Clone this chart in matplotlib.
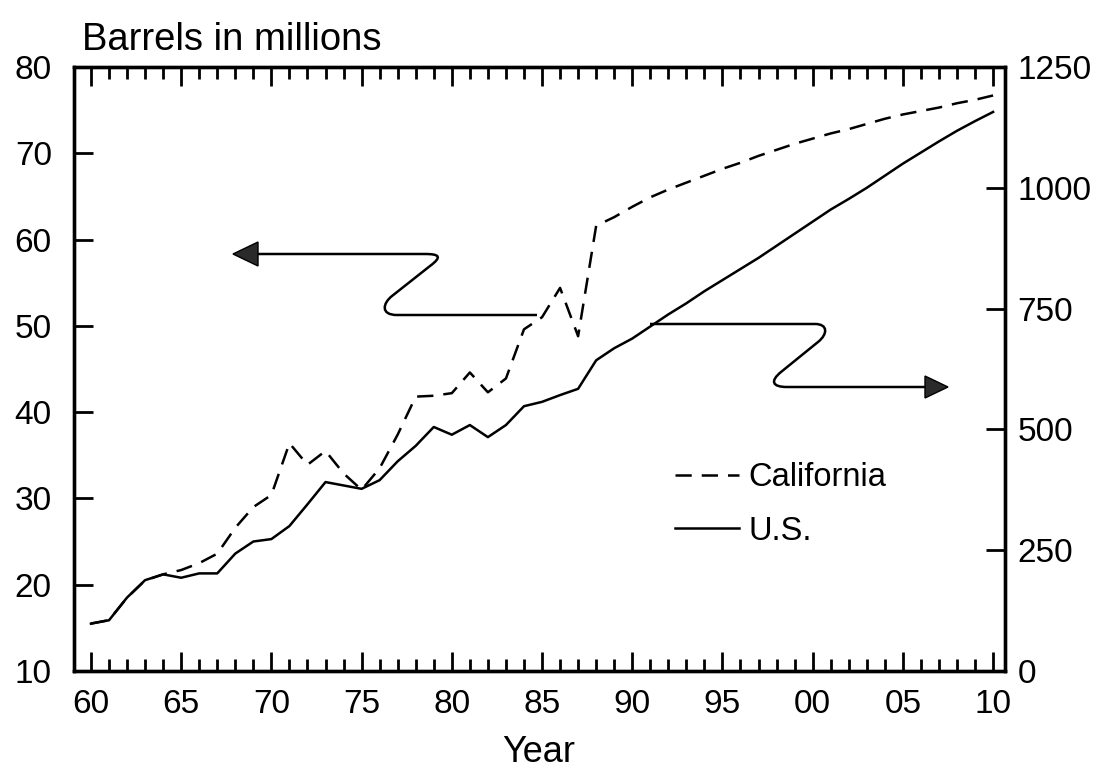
import matplotlib
matplotlib.use("Agg")
import matplotlib.pyplot as plt
from matplotlib.path import Path
from matplotlib.patches import PathPatch, Polygon
from matplotlib.ticker import MultipleLocator, FuncFormatter

plt.rcParams['font.family'] = ['Liberation Sans', 'DejaVu Sans']

# Datos
years = list(range(1960, 2011))
# California, millones de barriles (eje izquierdo)
california = [15.5, 15.9, 18.5, 20.5, 21.2, 21.7, 22.5, 23.6, 26.6, 29.0,
              30.4, 36.4, 33.9, 35.5, 32.9, 31.0, 33.5, 37.4, 41.8, 41.9,
              42.2, 44.6, 42.3, 43.9, 49.6, 51.0, 54.4, 48.8, 61.6, 62.6,
              63.8, 64.9, 65.8, 66.6, 67.4, 68.2, 68.9, 69.7, 70.4, 71.1,
              71.7, 72.3, 72.8, 73.4, 74.0, 74.5, 74.9, 75.3, 75.8, 76.2,
              76.7]
# U.S., millones de barriles (eje derecho)
us = [98, 105, 152, 188, 200, 193, 202, 202, 243, 268,
      273, 300, 345, 391, 384, 377, 395, 434, 466, 505,
      489, 509, 484, 509, 548, 557, 571, 584, 643, 668,
      688, 713, 738, 761, 786, 809, 832, 855, 880, 905,
      930, 955, 977, 1000, 1025, 1050, 1073, 1096, 1118, 1138,
      1157]
left_ticks = [10, 20, 30, 40, 50, 60, 70, 80]
right_ticks = [0, 250, 500, 750, 1000, 1250]

W, H = 1109, 769
L, R, T, B = 74, 1005, 67, 671

fig = plt.figure(figsize=(W / 100, H / 100), dpi=100)
fig.subplots_adjust(left=L / W, right=R / W, top=1 - T / H, bottom=1 - B / H)
ax = fig.add_subplot(111)
ax2 = ax.twinx()

l1, = ax.plot(years, california, color='black', lw=1.8, ls=(0, (6.5, 4)), label='California')
l2, = ax2.plot(years, us, color='black', lw=1.8, label='U.S.')

ax.set_xlim(1959.06, 2010.66)
ax.set_ylim(10, 80)
ax2.set_ylim(0, 1250)
ax.set_yticks(left_ticks)
ax2.set_yticks(right_ticks)
ax.xaxis.set_major_locator(MultipleLocator(5))
ax.xaxis.set_minor_locator(MultipleLocator(1))
ax.xaxis.set_major_formatter(FuncFormatter(lambda v, p: f"{int(round(v)) % 100:02d}"))

ax.tick_params(axis='x', which='both', direction='in', top=True, bottom=True, width=2)
ax.tick_params(axis='x', which='major', length=14, labelsize=24, pad=13)
ax.tick_params(axis='x', which='minor', length=8.5)
ax.tick_params(axis='y', direction='in', length=14, width=2, labelsize=24, pad=16, right=False)
ax2.tick_params(axis='y', direction='in', length=14, width=2, labelsize=24, pad=9)
for a in (ax, ax2):
    for s in a.spines.values():
        s.set_linewidth(2.4)


def px(x, y):
    # pasa pixeles de la imagen a fracción de ejes
    return ((x - L) / (R - L), (B - y) / (B - T))


def flecha(pts, codes, head):
    verts = [px(x, y) for x, y in pts]
    ax2.add_patch(PathPatch(Path(verts, codes), fill=False, lw=1.8,
                            edgecolor='black', transform=ax2.transAxes, clip_on=False))
    ax2.add_patch(Polygon([px(x, y) for x, y in head], closed=True, facecolor='#2a2a2a',
                          edgecolor='black', lw=1, transform=ax2.transAxes, clip_on=False))


M, Ln, C = Path.MOVETO, Path.LINETO, Path.CURVE4
codes = [M, Ln, C, C, C, Ln, C, C, C, Ln]
# flecha hacia el eje izquierdo (California)
flecha([(537, 315), (397, 315), (380, 315), (383, 303), (392, 296), (430, 266),
        (442, 257), (440, 254), (425, 254), (258, 254)], codes,
       [(233, 254), (258, 242), (258, 266)])
# flecha hacia el eje derecho (U.S.)
flecha([(650, 324), (815, 324), (828, 324), (828, 334), (818, 342), (781, 372),
        (770, 381), (772, 387), (787, 387), (927, 387)], codes,
       [(948, 387), (925, 376), (925, 398)])

ax2.legend(handles=[l1, l2], loc='upper left', bbox_to_anchor=px(675, 462),
           frameon=False, fontsize=23.5, handlelength=1.95, handletextpad=0.3,
           labelspacing=0.7, borderpad=0, borderaxespad=0)

fig.text(82 / W, 1 - 50 / H, 'Barrels in millions', fontsize=27.5, va='baseline', ha='left')
fig.text(539 / W, 1 - 762 / H, 'Year', fontsize=26, va='baseline', ha='center')

fig.savefig('out.png', dpi=100)
